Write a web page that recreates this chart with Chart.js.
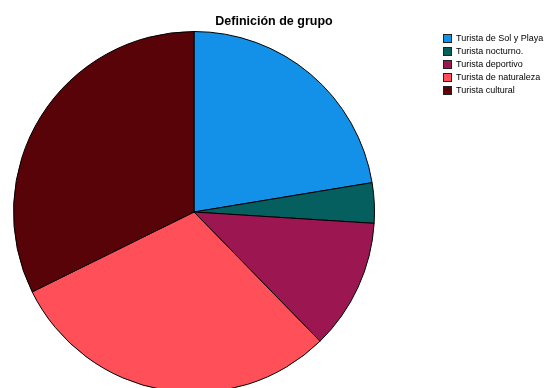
<!DOCTYPE html>
<html><head><meta charset="utf-8">
<script src="https://cdn.jsdelivr.net/npm/chart.js@4/dist/chart.umd.min.js"></script>
<style>
html,body{margin:0;padding:0;background:#fff;overflow:hidden;width:546px;height:388px;}
#wrap{position:absolute;left:0;top:0;width:546px;height:400px;}
#title{position:absolute;left:0;width:548px;top:14px;text-align:center;font:bold 12.5px "Liberation Sans",Arial,sans-serif;color:#000;}
#legend{position:absolute;left:443px;top:31.5px;font:9px "Liberation Sans",Arial,sans-serif;color:#000;}
.row{height:13.2px;line-height:13.2px;white-space:nowrap;display:flex;align-items:center;}
.box{width:7px;height:7px;border:1px solid #222;margin-right:4px;flex:none;}
</style></head>
<body>
<div id="wrap"><canvas id="c" width="546" height="400"></canvas></div>
<div id="title">Definición de grupo</div>
<div id="legend"></div>
<script>
const categories = ["Turista de Sol y Playa","Turista nocturno.","Turista deportivo","Turista de naturaleza","Turista cultural"];
const values = [22.4, 3.6, 11.7, 30.0, 32.3];
const colors = ["#1391e8","#055f5e","#9c1752","#ff4f59","#570308"];

const lg = document.getElementById('legend');
categories.forEach((c,i)=>{
  const r=document.createElement('div');r.className='row';
  const b=document.createElement('span');b.className='box';b.style.background=colors[i];
  const t=document.createElement('span');t.textContent=c;
  r.appendChild(b);r.appendChild(t);lg.appendChild(r);
});

new Chart(document.getElementById('c'),{
  type:'pie',
  data:{labels:categories,datasets:[{data:values,backgroundColor:colors,borderColor:'#000',borderWidth:1}]},
  options:{
    responsive:false,animation:false,
    layout:{padding:{left:13,top:31,right:171,bottom:7}},
    plugins:{legend:{display:false},title:{display:false},tooltip:{enabled:false}}
  }
});
</script>
</body></html>
